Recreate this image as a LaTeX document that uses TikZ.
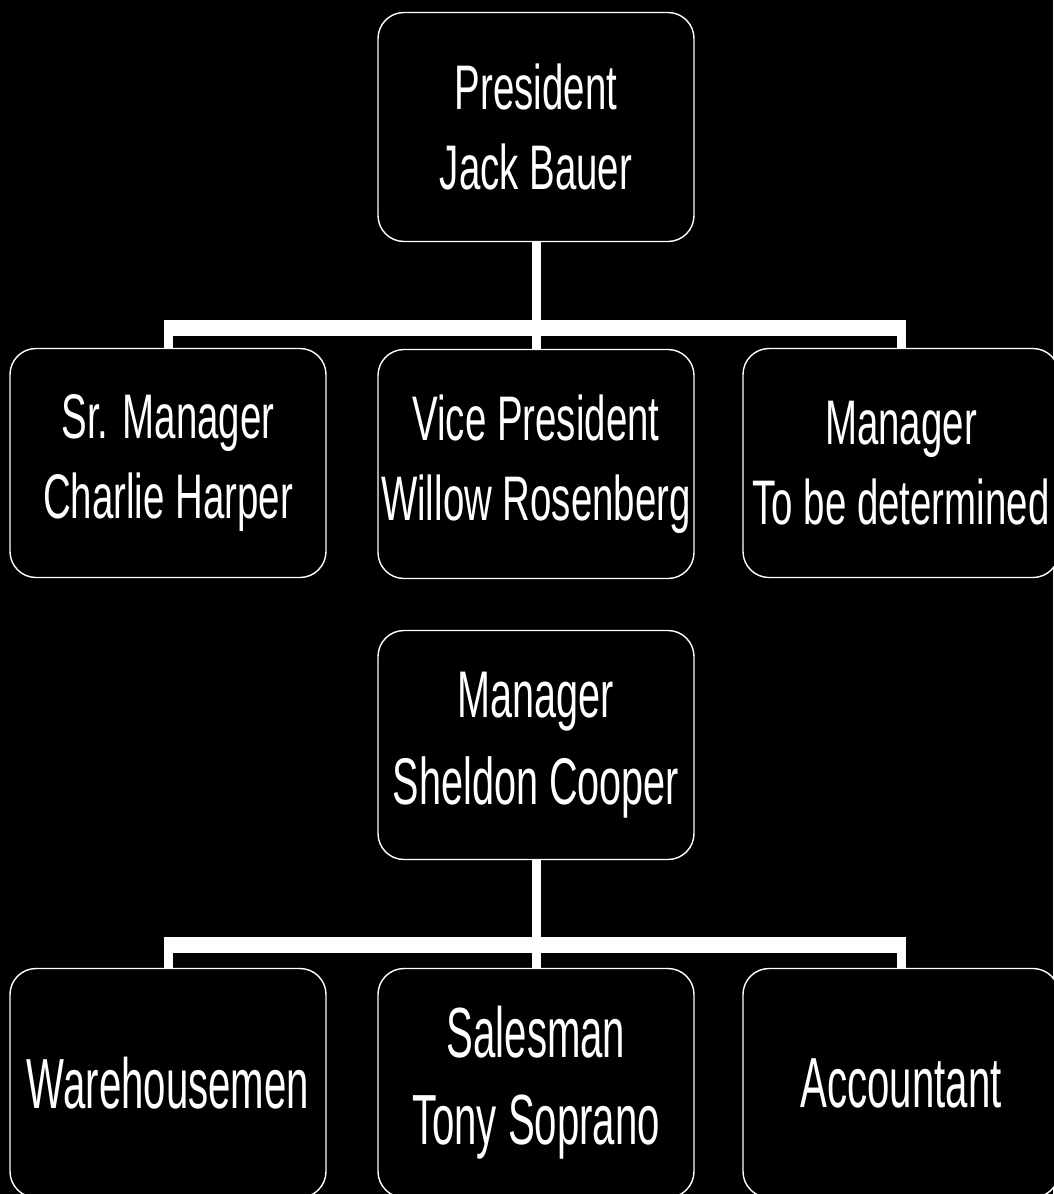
\documentclass[tikz,border=0pt]{standalone}
\usepackage{fontspec}
\newfontfamily\boxfontA[FakeStretch=0.61]{Liberation Sans}
\newfontfamily\boxfontB[FakeStretch=0.60]{Liberation Sans}
\newfontfamily\boxfontC[FakeStretch=0.566]{Liberation Sans}
\begin{document}
\begin{tikzpicture}[x=1pt,y=-1pt,
  box/.style={draw=white, line width=1.4pt, fill=black, rounded corners=26pt,
    minimum width=316pt, minimum height=229pt, inner sep=0pt, align=center,
    text=white, font=\boxfontA\fontsize{63}{80}\selectfont},
  boxmid/.style={box, font=\boxfontB\fontsize{66}{87}\selectfont},
  boxlow/.style={box, font=\boxfontC\fontsize{71}{87}\selectfont},
  vline/.style={draw=white, line width=9pt},
  hline/.style={draw=white, line width=16pt}]
\fill[black] (0,0) rectangle (1053,1194);
\useasboundingbox (0,0) rectangle (1053,1194);
% top level
\node[box] (pres) at (536,127) {President\\Jack Bauer};
\node[box] (sr)   at (168,463) {Sr. Manager\\Charlie Harper};
\node[box] (vp)   at (536,464) {Vice President\\Willow Rosenberg};
\node[box] (mgr)  at (901,463) {Manager\\To be determined};
\coordinate (bar1) at (536,328);
\draw[vline] (pres.south) -- (vp.north);
\draw[vline] (sr.north) -- (sr.north |- bar1);
\draw[vline] (mgr.north) -- (mgr.north |- bar1);
\draw[hline] ([xshift=-4.5pt]sr.north |- bar1) -- ([xshift=4.5pt]mgr.north |- bar1);
% second level
\node[boxmid] (shel) at (536,745) {Manager\\Sheldon Cooper};
\node[boxlow] (wh)   at (168,1083) {Warehousemen};
\node[boxlow] (sal)  at (536,1083) {Salesman\\Tony Soprano};
\node[boxlow] (acc)  at (901,1083) {Accountant};
\coordinate (bar2) at (536,945);
\draw[vline] (shel.south) -- (sal.north);
\draw[vline] (wh.north) -- (wh.north |- bar2);
\draw[vline] (acc.north) -- (acc.north |- bar2);
\draw[hline] ([xshift=-4.5pt]wh.north |- bar2) -- ([xshift=4.5pt]acc.north |- bar2);
\end{tikzpicture}
\end{document}
